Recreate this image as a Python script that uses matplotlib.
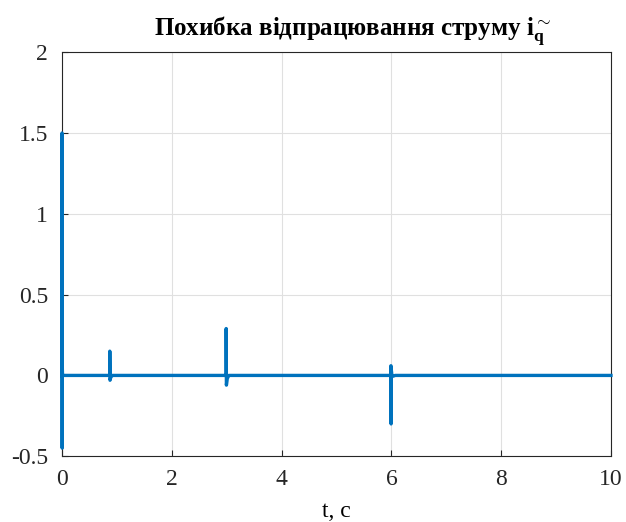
import matplotlib
matplotlib.use("Agg")
import matplotlib.pyplot as plt

# data (time in s, error)
t = [0.0, 0.001, 0.002, 0.004, 0.006, 0.01, 0.02, 0.04,
     0.87, 0.871, 0.875, 0.89, 0.92, 0.95, 0.99,
     2.99, 2.991, 2.995, 3.01, 3.04, 3.08, 3.12,
     5.99, 5.992, 5.995, 5.997, 6.01, 6.03, 6.07, 6.12,
     10.0]
err = [0.0, 1.5, 0.15, -0.45, 0.05, 0.0, 0.0, 0.0,
       0.0, 0.15, -0.03, -0.01, 0.0, 0.0, 0.0,
       0.0, 0.29, -0.06, -0.02, 0.0, 0.0, 0.0,
       0.0, 0.06, -0.3, 0.04, 0.0, -0.005, 0.0, 0.0,
       0.0]

xticks = [0, 2, 4, 6, 8, 10]
yticks = [-0.5, 0, 0.5, 1, 1.5, 2]
ytick_labels = ["-0.5", "0", "0.5", "1", "1.5", "2"]

plt.rcParams['font.family'] = ['Liberation Serif', 'DejaVu Serif']
plt.rcParams['mathtext.fontset'] = 'custom'
plt.rcParams['mathtext.rm'] = 'Liberation Serif'
plt.rcParams['mathtext.bf'] = 'Liberation Serif:bold'

fig = plt.figure(figsize=(6.26, 5.22), dpi=100)
ax = fig.add_axes([0.099, 0.126, 0.877, 0.774])
ax.plot(t, err, color='#0072BD', linewidth=2.4, solid_joinstyle='round',
        clip_on=False, zorder=5)
ax.set_xlim(0, 10)
ax.set_ylim(-0.5, 2)
ax.set_xticks(xticks)
ax.set_xticklabels([str(v) for v in xticks])
ax.set_yticks(yticks)
ax.set_yticklabels(ytick_labels)
ax.grid(True, color='#e0e0e0', linewidth=0.8)
ax.set_axisbelow(True)
ax.tick_params(direction='in', labelsize=17, colors='#262626', length=4)
ax.tick_params(axis='y', pad=10)
ax.tick_params(axis='x', pad=9)
for s in ax.spines.values():
    s.set_color('#262626')
    s.set_linewidth(0.8)
ax.set_title(r'Похибка відпрацювання струму $\mathbf{i_q^{\sim}}$',
             fontsize=18, fontweight='bold', pad=12, x=0.53)
ax.set_xlabel('t, с', fontsize=17, labelpad=8)
fig.savefig('out.png', dpi=100)
